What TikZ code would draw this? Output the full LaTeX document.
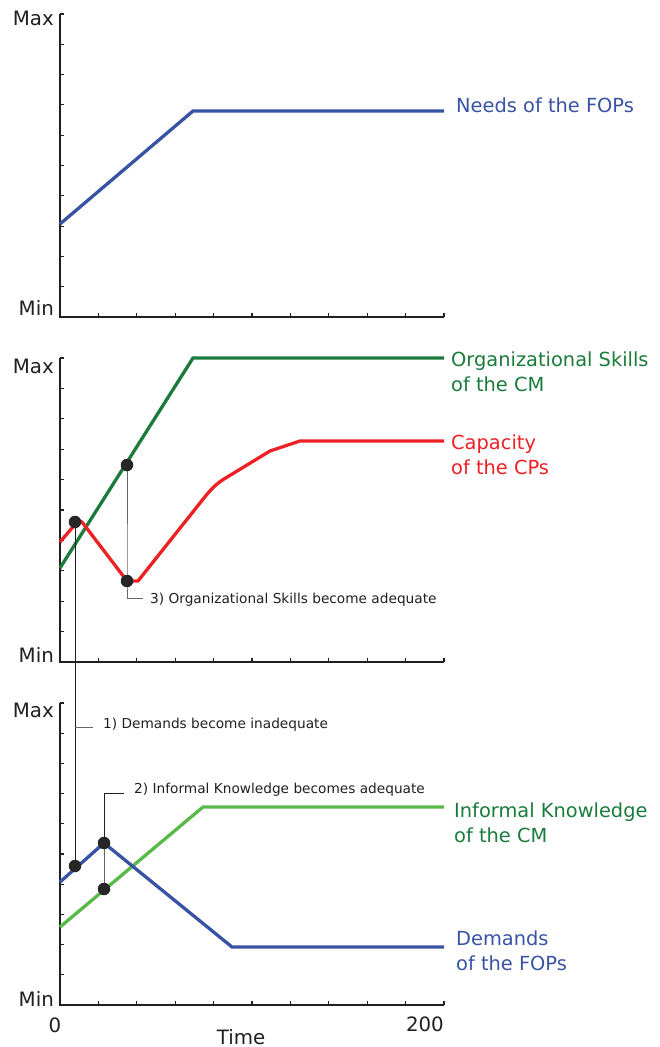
\documentclass[tikz,border=0pt]{standalone}
\usepackage{fontspec}
\setmainfont{DejaVu Sans}
\definecolor{cblue}{HTML}{3953A4}
\definecolor{cdgreen}{HTML}{1B7B3C}
\definecolor{cred}{HTML}{ED2024}
\definecolor{clgreen}{HTML}{57B947}
\definecolor{caxis}{HTML}{231F20}
\begin{document}
\begin{tikzpicture}[x=1pt,y=-1pt,
  axis/.style={draw=caxis,line width=1.4pt},
  tick/.style={draw=caxis,line width=1.1pt},
  curve/.style={line width=3.3pt,line join=miter},
  ann/.style={draw=caxis,line width=0.8pt},
  anng/.style={draw=black!60,line width=0.8pt},
  dot/.style={circle,fill=black!85,inner sep=0pt,minimum size=12.5pt},
  big/.style={font=\fontsize{19.4}{25}\selectfont,inner sep=0pt,align=left},
  small/.style={font=\fontsize{13.7}{16}\selectfont,inner sep=0pt,text=caxis},
  axlab/.style={font=\fontsize{19.8}{22}\selectfont,inner sep=0pt,text=caxis}]
\useasboundingbox (0,0) rectangle (659,1047);
% ---------- axes ----------
\foreach \top/\bot in {14/317, 358/662, 703/1005}{
  \draw[axis] (60,\top) -- (60,\bot) -- (444,\bot);
  \foreach \i in {0,...,9}{
    \draw[tick] (60,{\top+\i*(\bot-\top)/10}) -- ++(3.8,0);
  }
  \foreach \j in {1,...,10}{
    \draw[tick] ({60+\j*38.4},\bot) -- ++(0,-3.8);
  }
}
% axis labels
\node[axlab,anchor=base east] (max1) at (54,25) {Max};
\node[axlab,anchor=base east] (min1) at (54,315) {Min};
\node[axlab,anchor=base east] (max2) at (54,373) {Max};
\node[axlab,anchor=base east] (min2) at (54,662) {Min};
\node[axlab,anchor=base east] (max3) at (54,717) {Max};
\node[axlab,anchor=base east] (min3) at (54,1006) {Min};
\node[axlab,anchor=base] (x0) at (55,1032) {0};
\node[axlab,anchor=base east] (x200) at (444,1031) {200};
\node[axlab,anchor=base] (time) at (241,1044) {Time};
% ---------- panel 1 ----------
\draw[curve,cblue] (60,224) -- (193,111) -- (444,111);
\node[big,text=cblue,anchor=base west] (needs) at (456,112) {Needs of the FOPs};
% ---------- panel 2 ----------
\draw[curve,cdgreen] (60,568) -- (193,358) -- (444,358);
\draw[curve,cred] (60,542) -- (78,521) -- (82,522) -- (127,581) -- (138,581)
  -- (200,503) .. controls (208,493) and (213,486) .. (224,479) -- (270,451) -- (300,441) -- (444,441);
\node[big,text=cdgreen,anchor=base west] (orgsk) at (451,391) {Organizational Skills\\of the CM};
\node[big,text=cred,anchor=base west] (capac) at (451,474) {Capacity\\of the CPs};
% ---------- panel 3 ----------
\draw[curve,clgreen] (60,927) -- (203,807) -- (444,807);
\draw[curve,cblue] (60,882) -- (104,843) -- (232,947) -- (444,947);
\node[big,text=cdgreen,anchor=base west] (infk) at (454,842) {Informal Knowledge\\of the CM};
\node[big,text=cblue,anchor=base west] (dem) at (456,970) {Demands\\of the FOPs};
% ---------- annotation points ----------
\coordinate (pA) at (75,522);   % capacity peak
\coordinate (pB) at (127,465);  % org skills
\coordinate (pC) at (127,581);  % capacity min
\coordinate (pD) at (75,866);   % demands
\coordinate (pE) at (104,843);  % demands peak
\coordinate (pF) at (104,889);  % informal knowledge
% annotation texts
\node[small,anchor=base west] (t3) at (150,603) {3) Organizational Skills become adequate};
\node[small,anchor=base west] (t1) at (103,728) {1) Demands become inadequate};
\node[small,anchor=base west] (t2) at (134,793) {2) Informal Knowledge becomes adequate};
\coordinate (c3) at (127,598);
\coordinate (c1) at (75,727);
\coordinate (c2) at (104,793);
% connectors
\draw[anng] (pB) -- (pC) -- (c3) -- ([xshift=-7pt]t3.west |- c3);
\draw[ann] (pA) -- (pD);
\draw[anng] (c1) -- ([xshift=-10pt]t1.west |- c1);
\draw[anng] (pF) -- (pE);
\draw[ann] (pE) -- (c2) -- ([xshift=-10pt]t2.west |- c2);
% dots
\foreach \p in {pA,pB,pC,pD,pE,pF}{ \node[dot] at (\p) {}; }
\end{tikzpicture}
\end{document}
